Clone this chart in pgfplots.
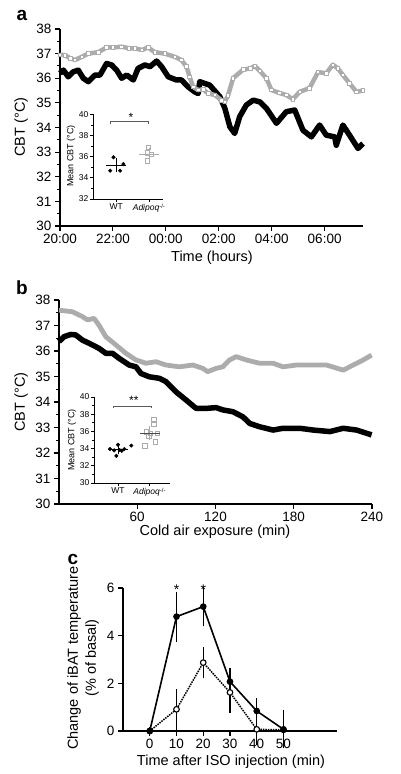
\documentclass[border=0pt]{standalone}
\usepackage{fontspec}
\setmainfont{Liberation Sans}
\usepackage{pgfplots}
\pgfplotsset{compat=1.18}
\definecolor{lg}{RGB}{172,172,172}
\definecolor{brk}{RGB}{90,90,90}
\begin{document}
\begin{tikzpicture}[x=1pt,y=1pt]
\useasboundingbox (0,0) rectangle (400,-774);
\pgfplotsset{
 mainax/.style={scale only axis, axis lines*=left, axis line style={line width=1.2pt},
   tick style={line width=1.1pt, black}, tick align=outside, major tick length=5pt, minor tick length=3pt,
   tick label style={font=\fontsize{13.5}{13.5}\selectfont},
   /pgf/number format/assume math mode=true, clip=false},
 insetax/.style={scale only axis, axis lines*=left, axis line style={line width=0.7pt},
   tick style={line width=0.7pt, black}, tick align=outside, major tick length=3pt, minor tick length=2pt,
   tick label style={font=\fontsize{8.5}{9}\selectfont, inner sep=1.5pt},
   /pgf/number format/assume math mode=true, clip=false},
}
% ---------------- panel a ----------------
\begin{axis}[mainax, at={(60pt,-226pt)}, anchor=south west, width=303pt, height=197pt,
  xmin=0, xmax=11.45, ymin=30, ymax=38,
  xtick={0,2,4,6,8,10}, xticklabels={20:00,22:00,00:00,02:00,04:00,06:00},
  ytick={30,31,...,38}, minor y tick num=1]
\addplot[black, line width=5.5pt, line join=round] coordinates {
(0.0,36.2) (0.13,36.33) (0.31,36.06) (0.5,36.26) (0.69,36.33) (0.88,36.0) (1.07,35.86)
(1.32,36.13) (1.51,36.13) (1.76,36.6) (1.95,36.54) (2.14,36.33) (2.33,36.0) (2.52,36.13)
(2.77,35.93) (2.95,36.4) (3.21,36.54) (3.4,36.47) (3.65,36.7) (3.84,36.47) (4.09,36.06)
(4.4,35.93) (4.59,35.93) (4.84,35.65) (5.09,35.45) (5.22,35.38) (5.28,35.86) (5.66,35.72)
(6.04,35.25) (6.23,34.78) (6.42,34.03) (6.6,33.76) (6.79,34.44) (7.04,34.91) (7.3,35.11)
(7.55,35.04) (7.8,34.78) (8.18,34.17) (8.55,34.64) (8.87,34.71) (9.18,33.89) (9.5,33.62)
(9.81,34.1) (10.06,33.69) (10.38,33.62) (10.44,33.28) (10.69,34.1) (10.94,33.69) (11.26,33.15) (11.45,33.35)};
\addplot[lg, line width=4.5pt, line join=round, mark=square*, mark size=1.8pt,
  mark options={fill=white, draw=lg, line width=0.8pt}] coordinates {
(0.0,36.95) (0.19,36.94) (0.4,36.8) (0.57,36.74) (0.82,36.87) (1.07,37.0) (1.45,37.06)
(1.76,37.25) (2.0,37.25) (2.33,37.28) (2.6,37.22) (2.83,37.21) (3.1,37.15) (3.33,37.25)
(3.58,37.06) (3.96,37.0) (4.34,36.87) (4.59,36.74) (4.78,36.47) (4.9,36.06) (5.03,35.65)
(5.22,35.52) (5.41,35.55) (5.6,35.38) (5.85,35.32) (6.1,35.11) (6.23,35.04) (6.35,35.3)
(6.54,36.0) (6.92,36.35) (7.2,36.4) (7.36,36.5) (7.55,36.3) (7.8,36.0) (7.99,35.52)
(8.3,35.4) (8.55,35.32) (8.8,35.15) (9.06,35.45) (9.43,35.6) (9.75,36.25) (10.06,36.2)
(10.31,36.55) (10.5,36.4) (10.69,36.13) (10.94,35.8) (11.2,35.45) (11.45,35.5)};
\end{axis}
\node[rotate=90, font=\fontsize{14.5}{14.5}\selectfont] at (21,-127) {CBT (°C)};
\node[anchor=base, font=\fontsize{14.5}{14.5}\selectfont] at (212,-261) {Time (hours)};
\node[font=\fontsize{19}{19}\selectfont\bfseries] at (22,-15) {a};
% inset a
\begin{axis}[insetax, at={(93pt,-199pt)}, anchor=south west, width=70pt, height=84.7pt,
  xmin=0.3, xmax=2.42, ymin=32, ymax=40, ytick={32,34,...,40}, minor y tick num=1,
  xtick={1,2}, xticklabels={WT,\textit{Adipoq}\textsuperscript{-/-}}]
\addplot[only marks, mark=*, mark size=1.8pt, black] coordinates {(0.82,34.67) (0.92,35.94) (1.12,34.67) (1.22,35.3)};
\addplot[only marks, mark=square, mark size=2.2pt, lg, mark options={line width=0.8pt}] coordinates {(1.98,36.89) (1.95,35.6) (1.94,36.35) (2.06,36.2)};
\addplot[only marks, mark=-, mark size=10pt, black, mark options={line width=0.9pt},
  error bars/.cd, y dir=both, y explicit, error mark options={mark size=3.5pt, line width=0.9pt, black}, error bar style={line width=0.9pt, black}]
  coordinates {(1,35.2) +- (0,0.35)};
\addplot[only marks, mark=-, mark size=10pt, lg, mark options={line width=0.9pt},
  error bars/.cd, y dir=both, y explicit, error mark options={mark size=3.5pt, line width=0.9pt, lg}, error bar style={line width=0.9pt, lg}]
  coordinates {(2,36.22) +- (0,0.3)};
\draw[brk, line width=0.6pt] (axis cs:0.82,39.05) -- (axis cs:0.82,39.3) -- (axis cs:1.98,39.3) -- (axis cs:1.98,39.05);
\node[font=\fontsize{12}{12}\selectfont] at (axis cs:1.45,39.7) {*};
\end{axis}
\node[rotate=90, font=\fontsize{9}{9}\selectfont] at (71,-156) {Mean CBT (°C)};
% ---------------- panel b ----------------
\begin{axis}[mainax, at={(59pt,-504pt)}, anchor=south west, width=313pt, height=204pt,
  xmin=0, xmax=240, ymin=30, ymax=38,
  xtick={60,120,180,240},
  ytick={30,31,...,38}, minor y tick num=1]
\addplot[black, line width=5.5pt, line join=round] coordinates {
(0,36.37) (3.8,36.56) (9,36.65) (12.8,36.63) (17.9,36.43) (25.6,36.24) (30.8,36.1) (35.9,35.91)
(41,35.91) (46.2,35.71) (53.8,35.45) (59,35.38) (62.8,35.12) (69.2,34.99) (76.9,34.93) (82,34.8)
(89.7,34.4) (97.4,34.08) (105.1,33.75) (112.8,33.75) (120.5,33.78) (125.6,33.69) (133.3,33.62)
(141,33.42) (146.2,33.16) (153.8,33.03) (164.1,32.9) (171.8,32.97) (184.6,32.97) (194.9,32.9)
(207.7,32.84) (217.9,32.97) (228.2,32.9) (239.7,32.71)};
\addplot[lg, line width=4.8pt, line join=round] coordinates {
(0,37.6) (10.3,37.54) (17.9,37.35) (21.8,37.22) (26.9,37.28) (30.8,37.0) (35.9,36.56) (43.6,36.24)
(51.3,35.91) (59,35.65) (66.7,35.52) (74.4,35.58) (82,35.45) (92.3,35.38) (102.6,35.45) (110.3,35.32)
(114,35.19) (120.5,35.32) (125.6,35.38) (130.8,35.65) (135.9,35.78) (143.6,35.65) (153.8,35.52)
(164.1,35.52) (171.8,35.38) (182,35.45) (194.9,35.45) (205.1,35.45) (217.9,35.25) (225.6,35.45)
(233.3,35.65) (239.7,35.84)};
\end{axis}
\node[rotate=90, font=\fontsize{14.5}{14.5}\selectfont] at (21,-402) {CBT (°C)};
\node[anchor=base, font=\fontsize{14.5}{14.5}\selectfont] at (215,-535) {Cold air exposure (min)};
\node[font=\fontsize{19}{19}\selectfont\bfseries] at (22,-288) {b};
% inset b
\begin{axis}[insetax, at={(94pt,-483pt)}, anchor=south west, width=76pt, height=86pt,
  xmin=0.245, xmax=2.64, ymin=30, ymax=40, ytick={30,32,...,40}, minor y tick num=1,
  xtick={1,2}, xticklabels={WT,\textit{Adipoq}\textsuperscript{-/-}}]
\addplot[only marks, mark=*, mark size=1.8pt, black] coordinates {(0.75,33.95) (0.88,33.8) (0.95,33.15) (1.0,34.45) (1.05,33.85) (1.12,33.75) (1.2,33.95) (1.42,34.35)};
\addplot[only marks, mark=square, mark size=2.2pt, lg, mark options={line width=0.8pt}] coordinates {(2.13,37.39) (2.13,36.8) (1.89,35.96) (2.03,35.75) (2.24,35.8) (1.97,35.46) (2.18,34.8) (1.85,34.3)};
\addplot[only marks, mark=-, mark size=10pt, black, mark options={line width=0.9pt},
  error bars/.cd, y dir=both, y explicit, error mark options={mark size=3.5pt, line width=0.9pt, black}, error bar style={line width=0.9pt, black}]
  coordinates {(1,33.9) +- (0,0.15)};
\addplot[only marks, mark=-, mark size=10pt, black!70, mark options={line width=0.9pt},
  error bars/.cd, y dir=both, y explicit, error mark options={mark size=3.5pt, line width=0.9pt, lg}, error bar style={line width=0.9pt, lg}]
  coordinates {(2,35.78) +- (0,0.4)};
\draw[brk, line width=0.6pt] (axis cs:0.85,38.7) -- (axis cs:0.85,38.96) -- (axis cs:2.05,38.96) -- (axis cs:2.05,38.7);
\node[font=\fontsize{12}{12}\selectfont] at (axis cs:1.5,39.6) {**};
\end{axis}
\node[rotate=90, font=\fontsize{9}{9}\selectfont] at (72,-440) {Mean CBT (°C)};
% ---------------- panel c ----------------
\begin{axis}[mainax, at={(123pt,-731pt)}, anchor=south west, width=214pt, height=143pt,
  xmin=-10, xmax=70, ymin=0, ymax=6,
  xtick={0,10,...,50}, ytick={0,2,4,6}]
\addplot[black, line width=1.5pt, densely dotted, mark=*, mark size=2.8pt,
  mark options={solid, fill=white, draw=black, line width=1.1pt},
  error bars/.cd, y dir=both, y explicit, error mark options={mark size=4pt, line width=1.1pt, solid}, error bar style={line width=1.1pt, solid}]
  coordinates {(0,0) +- (0,0) (10,0.91) +- (0,0.7) (20,2.87) +- (0,0.49) (30,1.62) +- (0,0.68) (40,0.07) +- (0,0.5) (50,0.05) +- (0,0)};
\addplot[black, line width=1.6pt, mark=*, mark size=2.5pt, mark options={solid},
  error bars/.cd, y dir=both, y explicit, error mark options={mark size=4pt, line width=1.1pt}, error bar style={line width=1.1pt}]
  coordinates {(0,0) +- (0,0) (10,4.8) +- (0,0.88) (20,5.22) +- (0,0.65) (30,2.07) +- (0,0.42) (40,0.84) +- (0,0.36) (50,0.07) +- (0,0.63)};
\node[anchor=base, font=\fontsize{14}{14}\selectfont] at (axis cs:10,5.74) {*};
\node[anchor=base, font=\fontsize{14}{14}\selectfont] at (axis cs:20,5.74) {*};
\end{axis}
\node[rotate=90, align=center, font=\fontsize{14.5}{18}\selectfont] at (83,-658) {Change of iBAT temperature\\(\% of basal)};
\node[anchor=base, font=\fontsize{14.5}{14.5}\selectfont] at (231,-765) {Time after ISO injection (min)};
\node[font=\fontsize{19}{19}\selectfont\bfseries] at (73,-559) {c};
\end{tikzpicture}
\end{document}
